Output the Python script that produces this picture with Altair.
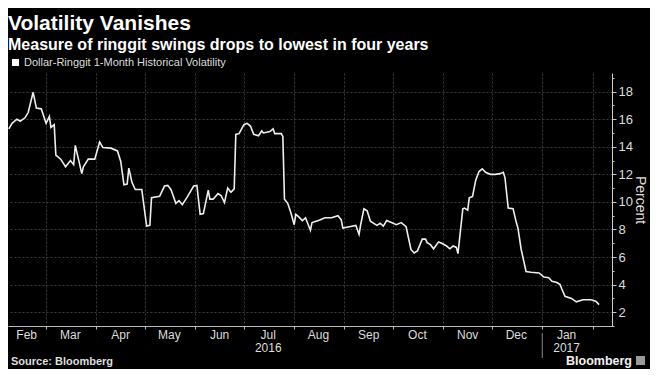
import altair as alt
import pandas as pd

# ---- data ----
dates = [
    "2016-02-07", "2016-02-09", "2016-02-12", "2016-02-14", "2016-02-17", "2016-02-19",
    "2016-02-22", "2016-02-24", "2016-02-27", "2016-03-01", "2016-03-03", "2016-03-04",
    "2016-03-06", "2016-03-07", "2016-03-10", "2016-03-13", "2016-03-16", "2016-03-18",
    "2016-03-19", "2016-03-23", "2016-03-24", "2016-03-27", "2016-03-31", "2016-04-03",
    "2016-04-05", "2016-04-10", "2016-04-14", "2016-04-16", "2016-04-18", "2016-04-20",
    "2016-04-21", "2016-04-23", "2016-04-25", "2016-04-29", "2016-05-02", "2016-05-04",
    "2016-05-05", "2016-05-10", "2016-05-13", "2016-05-15", "2016-05-17", "2016-05-20",
    "2016-05-22", "2016-05-24", "2016-05-27", "2016-05-31", "2016-06-02", "2016-06-04",
    "2016-06-06", "2016-06-09", "2016-06-10", "2016-06-12", "2016-06-15", "2016-06-17",
    "2016-06-19", "2016-06-21", "2016-06-23", "2016-06-25", "2016-06-26", "2016-06-28",
    "2016-07-01", "2016-07-03", "2016-07-05", "2016-07-07", "2016-07-10", "2016-07-12",
    "2016-07-13", "2016-07-17", "2016-07-19", "2016-07-20", "2016-07-24", "2016-07-25",
    "2016-07-26", "2016-07-28", "2016-07-30", "2016-08-01", "2016-08-02", "2016-08-04",
    "2016-08-06", "2016-08-08", "2016-08-11", "2016-08-12", "2016-08-16", "2016-08-20",
    "2016-08-24", "2016-08-28", "2016-08-30", "2016-08-31", "2016-09-04", "2016-09-08",
    "2016-09-10", "2016-09-11", "2016-09-13", "2016-09-15", "2016-09-17", "2016-09-21",
    "2016-09-23", "2016-09-25", "2016-09-27", "2016-09-30", "2016-10-03", "2016-10-06",
    "2016-10-09", "2016-10-12", "2016-10-14", "2016-10-16", "2016-10-19", "2016-10-21",
    "2016-10-22", "2016-10-24", "2016-10-26", "2016-10-29", "2016-10-31", "2016-11-03",
    "2016-11-05", "2016-11-07", "2016-11-09", "2016-11-10", "2016-11-13", "2016-11-14",
    "2016-11-16", "2016-11-17", "2016-11-19", "2016-11-21", "2016-11-23", "2016-11-25",
    "2016-11-27", "2016-11-30", "2016-12-03", "2016-12-06", "2016-12-08", "2016-12-09",
    "2016-12-11", "2016-12-14", "2016-12-16", "2016-12-17", "2016-12-19", "2016-12-22",
    "2016-12-25", "2016-12-30", "2017-01-02", "2017-01-05", "2017-01-07", "2017-01-10",
    "2017-01-12", "2017-01-13", "2017-01-15", "2017-01-19", "2017-01-22", "2017-01-26",
    "2017-01-31", "2017-02-03", "2017-02-05",
]
volatility = [
    15.3, 15.7, 16.0, 15.85, 16.1, 16.5,
    17.95, 16.8, 16.75, 15.7, 16.2, 15.4,
    15.6, 13.4, 13.1, 12.55, 13.0, 12.7,
    14.1, 12.05, 12.55, 13.1, 13.1, 14.35,
    13.95, 13.9, 13.7, 12.95, 11.25, 11.3,
    12.45, 11.4, 10.9, 10.9, 8.25, 8.3,
    10.3, 10.4, 11.15, 11.2, 10.9, 9.9,
    10.1, 9.8, 10.35, 11.15, 11.2, 9.1,
    9.15, 10.85, 10.2, 10.2, 10.6, 10.45,
    9.95, 11.0, 10.7, 10.95, 14.9, 14.95,
    15.6, 15.7, 15.5, 14.9, 14.8, 15.15,
    15.0, 15.1, 15.3, 14.95, 14.95, 14.75,
    10.2, 9.9, 9.2, 8.35, 9.1, 8.9,
    8.65, 8.85, 7.95, 8.5, 8.65, 8.85,
    8.85, 9.0, 8.7, 8.1, 8.2, 8.3,
    7.65, 8.35, 9.5, 9.35, 8.6, 8.3,
    8.45, 8.25, 8.65, 8.5, 8.35, 8.5,
    8.2, 6.55, 6.3, 6.45, 7.3, 7.3,
    7.05, 6.9, 6.6, 7.1, 7.0, 6.8,
    6.6, 6.8, 6.7, 6.25, 9.5, 9.55,
    9.4, 10.3, 10.4, 11.6, 12.2, 12.4,
    12.15, 12.0, 12.0, 12.05, 12.15, 11.75,
    9.55, 9.5, 8.5, 8.1, 6.55, 4.95,
    4.9, 4.85, 4.55, 4.5, 4.25, 4.15,
    4.0, 3.7, 3.15, 3.0, 2.75, 2.9,
    2.9, 2.8, 2.55,
]
series_name = "Dollar-Ringgit 1-Month Historical Volatility"

month_labels = ["Feb", "Mar", "Apr", "May", "Jun", "Jul", "Aug", "Sep", "Oct", "Nov", "Dec", "Jan"]
month_label_dates = [
    "2016-02-18", "2016-03-16", "2016-04-16", "2016-05-16", "2016-06-16", "2016-07-16",
    "2016-08-16", "2016-09-16", "2016-10-16", "2016-11-16", "2016-12-16", "2017-01-16",
]
month_starts = [
    (2016, 3), (2016, 4), (2016, 5), (2016, 6), (2016, 7), (2016, 8), (2016, 9),
    (2016, 10), (2016, 11), (2016, 12), (2017, 1), (2017, 2),
]
year_labels = ["2016", "2017"]
year_label_dates = ["2016-07-16", "2017-01-16"]
year_break = "2017-01-01"

y_ticks = list(range(1, 20))

# ---- layout ----
W, H = 604, 253
FONT = "Liberation Sans"
FG = "#dddddd"
GRID = "#3c3c3c"

line_df = pd.DataFrame({
    "date": [d + "T00:00:00" for d in dates],
    "value": volatility,
    "series": series_name,
})
months_df = pd.DataFrame({"date": [d + "T00:00:00" for d in month_label_dates], "label": month_labels})
years_df = pd.DataFrame({"date": [d + "T00:00:00" for d in year_label_dates], "label": year_labels})
break_df = pd.DataFrame({"date": [year_break + "T00:00:00"]})

x_scale = alt.Scale(domain=[alt.DateTime(year=2016, month=2, date=6, hours=12),
                            alt.DateTime(year=2017, month=2, date=13)])
y_scale = alt.Scale(domain=[1, 19.35], nice=False, zero=False)

x_axis = alt.Axis(
    values=[alt.DateTime(year=y, month=m, date=1) for (y, m) in month_starts],
    labels=False, title=None, grid=True, gridColor=GRID, gridDash=[2, 2],
    domainColor="#bbbbbb", tickColor="#bbbbbb", tickSize=3,
)
y_axis = alt.Axis(
    orient="right", values=y_ticks, title="Percent",
    labelExpr="datum.value % 2 == 0 ? datum.label : ''",
    grid=True, gridColor=GRID, gridDash=[2, 2],
    gridOpacity={"condition": {"test": "datum.value % 2 == 1", "value": 0}, "value": 1},
    tickSize={"condition": {"test": "datum.value % 2 == 1", "value": 2}, "value": 4},
    tickColor="#cccccc", domainColor="#cccccc",
    labelColor=FG, labelFont=FONT, labelFontSize=13, labelPadding=2,
    titleColor=FG, titleFont=FONT, titleFontSize=14, titleFontWeight="normal",
    titlePadding=0, titleAngle=90,
)

line = alt.Chart(line_df).mark_line(strokeWidth=1.6).encode(
    x=alt.X("date:T", scale=x_scale, axis=x_axis),
    y=alt.Y("value:Q", scale=y_scale, axis=y_axis),
    color=alt.Color("series:N", scale=alt.Scale(domain=[series_name], range=["#eeeeee"]),
                    legend=alt.Legend(
                        title=None, orient="none", legendX=2, legendY=-16,
                        symbolType="square", symbolSize=50, symbolFillColor="#ffffff",
                        symbolStrokeColor="#ffffff", symbolStrokeWidth=0,
                        labelColor=FG, labelFont=FONT, labelFontSize=11, padding=0,
                        labelOffset=3, labelLimit=0,
                    )),
)

month_text = alt.Chart(months_df).mark_text(
    font=FONT, fontSize=12, color=FG, align="center", baseline="alphabetic"
).encode(x=alt.X("date:T", scale=x_scale), y=alt.value(H + 13), text="label:N")

year_text = alt.Chart(years_df).mark_text(
    font=FONT, fontSize=12, color=FG, align="center", baseline="alphabetic"
).encode(x=alt.X("date:T", scale=x_scale), y=alt.value(H + 26), text="label:N")

year_rule = alt.Chart(break_df).mark_rule(color="#888888", strokeWidth=1).encode(
    x=alt.X("date:T", scale=x_scale), y=alt.value(H + 7), y2=alt.value(H + 32)
)

source_text = alt.Chart(pd.DataFrame({"t": ["Source:  Bloomberg"]})).mark_text(
    font=FONT, fontSize=11, fontWeight="bold", color=FG, align="left", baseline="alphabetic"
).encode(x=alt.value(3), y=alt.value(H + 39), text="t:N")

brand_text = alt.Chart(pd.DataFrame({"t": ["Bloomberg"]})).mark_text(
    font=FONT, fontSize=12.5, fontWeight="bold", color="#f0f0f0", align="right", baseline="alphabetic"
).encode(x=alt.value(W + 20), y=alt.value(H + 39), text="t:N")

brand_icon = alt.Chart(pd.DataFrame({"t": [0]})).mark_rect(color="#9a9a9a").encode(
    x=alt.value(W + 24), x2=alt.value(W + 33), y=alt.value(H + 30), y2=alt.value(H + 39)
)

chart = alt.layer(
    line, month_text, year_text, year_rule, source_text, brand_text, brand_icon
).properties(
    width=W, height=H,
    title=alt.TitleParams(
        "Volatility Vanishes",
        subtitle="Measure of ringgit swings drops to lowest in four years",
        anchor="start", frame="group", offset=4,
        font=FONT, fontSize=21, fontWeight="bold", color="#ffffff",
        subtitleFont=FONT, subtitleFontSize=16, subtitleFontWeight="bold",
        subtitleColor="#ffffff", subtitlePadding=3,
    ),
    autosize=alt.AutoSizeParams(type="none"),
    padding={"left": 0, "top": 65, "right": 38, "bottom": 43},
    background="#000000",
).configure_view(stroke=None)

chart.save("out.html", embed_options={"renderer": "svg", "actions": False})
